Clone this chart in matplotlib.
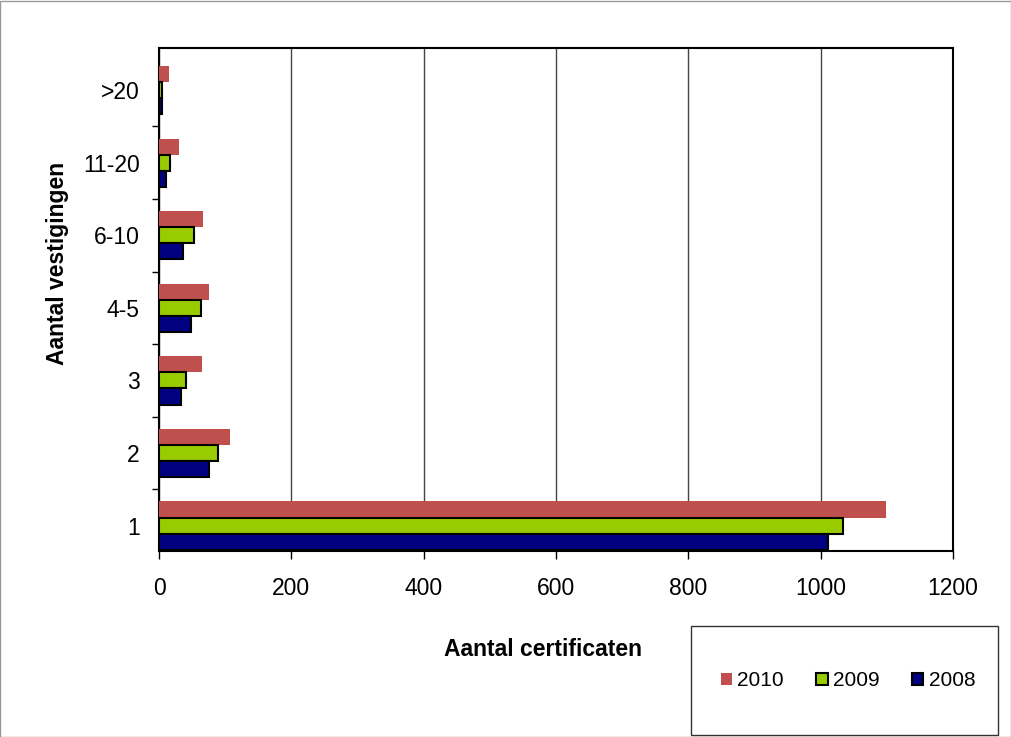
import matplotlib.pyplot as plt
import numpy as np
from matplotlib.patches import Rectangle

plt.rcParams['font.family'] = ['Liberation Sans', 'DejaVu Sans']

# data
categories = ['1', '2', '3', '4-5', '6-10', '11-20', '>20']
years = ['2010', '2009', '2008']
v2010 = [1098, 107, 65, 76, 66, 30, 15]
v2009 = [1033, 89, 41, 63, 53, 17, 5]
v2008 = [1011, 76, 33, 49, 36, 11, 4]

colors = {'2010': '#c0504d', '2009': '#99cc00', '2008': '#000080'}
edges = {'2010': 'none', '2009': 'black', '2008': 'black'}

fig = plt.figure(figsize=(10.12, 7.37), dpi=100)
ax = fig.add_axes([159 / 1012, 1 - 551 / 737, (953 - 159) / 1012, (551 - 48) / 737])

y = np.arange(len(categories))
h = 0.222
offsets = {'2010': h, '2009': 0, '2008': -h}
handles = []
for yr, vals in zip(years, [v2010, v2009, v2008]):
    b = ax.barh(y + offsets[yr], vals, height=h, color=colors[yr],
                edgecolor=edges[yr], linewidth=1.5, label=yr, zorder=3)
    handles.append(b)

ax.set_xlim(0, 1200)
ax.set_ylim(-0.35, 6.58)
ax.set_xticks(np.arange(0, 1201, 200))
ax.set_yticks(y)
ax.set_yticklabels(categories)
ax.set_yticks(np.arange(0.5, len(categories) - 1, 1), minor=True)
ax.tick_params(axis='y', which='major', length=0, pad=14, labelsize=16.5)
ax.tick_params(axis='y', which='minor', length=5, width=1, color='black')
ax.tick_params(axis='x', length=6, width=1, pad=13, labelsize=16.5, direction='out')
ax.grid(axis='x', color='#444444', linewidth=1, zorder=0)
for s in ax.spines.values():
    s.set_linewidth(1.5)
    s.set_color('black')

fig.text(58 / 1012, 1 - 263 / 737, 'Aantal vestigingen', rotation=90,
         ha='center', va='center', fontsize=16.5, fontweight='bold')
fig.text(543 / 1012, 1 - 650 / 737, 'Aantal certificaten',
         ha='center', va='center', fontsize=16.5, fontweight='bold')

# legend box
fig.patches.append(Rectangle((691 / 1012, 2 / 737), (998 - 691) / 1012, (735 - 626) / 737,
                             transform=fig.transFigure, fill=False, edgecolor='#333333',
                             linewidth=1))
fig.legend(handles, years, loc='center', bbox_to_anchor=(848 / 1012, 1 - 681 / 737),
           ncol=3, frameon=False, fontsize=15, handlelength=0.55, handleheight=0.55,
           handletextpad=0.25, columnspacing=1.55)

# outer border
fig.patches.append(Rectangle((0.5 / 1012, 0.5 / 737), 1 - 1 / 1012, 1 - 1 / 737,
                             transform=fig.transFigure, fill=False, edgecolor='#999999',
                             linewidth=1))

fig.savefig('out.png', dpi=100)
